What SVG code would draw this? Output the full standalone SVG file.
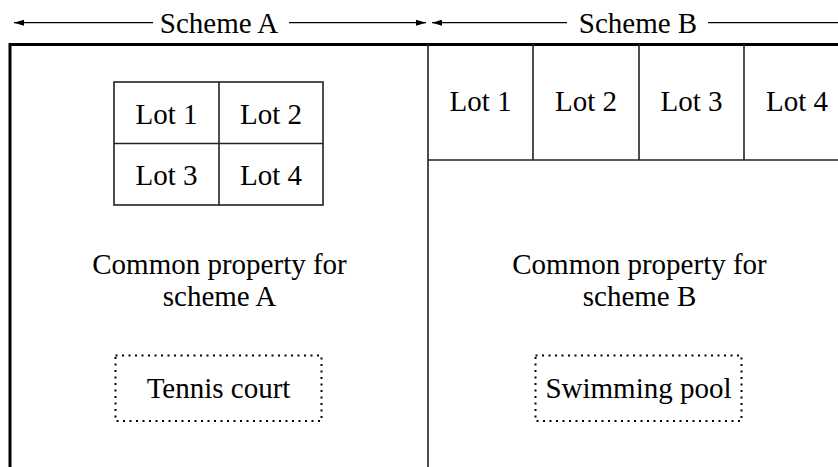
<svg xmlns="http://www.w3.org/2000/svg" width="838" height="467" viewBox="0 0 838 467">
<style>
text{font-family:"Liberation Serif","Times New Roman",serif;font-size:29px;fill:#000;text-anchor:middle}
.ln{stroke:#222;stroke-width:1.6;fill:none}
.frame{stroke:#000;stroke-width:3;fill:none}
.dot{stroke:#000;stroke-width:2;fill:none;stroke-dasharray:2 4.5}
.arr{stroke:#000;stroke-width:1.3;fill:none}
</style>
<defs>
<marker id="ah" viewBox="0 0 10 6" refX="10" refY="3" markerWidth="10" markerHeight="6" markerUnits="userSpaceOnUse" orient="auto">
<path d="M0,0 L10,3 L0,6 Z" fill="#000"/>
</marker>
</defs>
<rect width="838" height="467" fill="#fff"/>
<g id="connectors">
<line class="arr" x1="153" y1="22.7" x2="14" y2="22.7" marker-end="url(#ah)"/>
<line class="arr" x1="289" y1="22.7" x2="426" y2="22.7" marker-end="url(#ah)"/>
<line class="arr" x1="567" y1="22.7" x2="432" y2="22.7" marker-end="url(#ah)"/>
<line class="arr" x1="708" y1="22.7" x2="838" y2="22.7"/>
</g>
<g id="header">
<text x="219" y="33">Scheme A</text>
<text x="638" y="33">Scheme B</text>
</g>
<g id="frame">
<path class="frame" d="M10,467 V44.5 H838"/>
<line class="ln" x1="428" y1="44" x2="428" y2="467"/>
</g>
<g id="schemeA-lots">
<rect class="ln" x="114" y="82" width="209" height="123"/>
<line class="ln" x1="219" y1="82" x2="219" y2="205"/>
<line class="ln" x1="114" y1="143.5" x2="323" y2="143.5"/>
<text x="166.5" y="124">Lot 1</text>
<text x="271" y="124">Lot 2</text>
<text x="166.5" y="185">Lot 3</text>
<text x="271" y="185">Lot 4</text>
</g>
<g id="schemeB-lots">
<line class="ln" x1="428" y1="160" x2="838" y2="160"/>
<line class="ln" x1="533" y1="44" x2="533" y2="160"/>
<line class="ln" x1="639" y1="44" x2="639" y2="160"/>
<line class="ln" x1="744" y1="44" x2="744" y2="160"/>
<text x="480.5" y="111">Lot 1</text>
<text x="586" y="111">Lot 2</text>
<text x="691.5" y="111">Lot 3</text>
<text x="797" y="111">Lot 4</text>
</g>
<g id="commonA">
<text x="219.5" y="274">Common property for</text>
<text x="219.5" y="306">scheme A</text>
</g>
<g id="commonB">
<text x="639.5" y="274">Common property for</text>
<text x="639.5" y="306">scheme B</text>
</g>
<g id="tennis">
<rect class="dot" x="115.5" y="355.5" width="206" height="65.5"/>
<text x="218.5" y="398">Tennis court</text>
</g>
<g id="pool">
<rect class="dot" x="535.5" y="355.5" width="206" height="65.5"/>
<text x="638.5" y="398">Swimming pool</text>
</g>
</svg>
